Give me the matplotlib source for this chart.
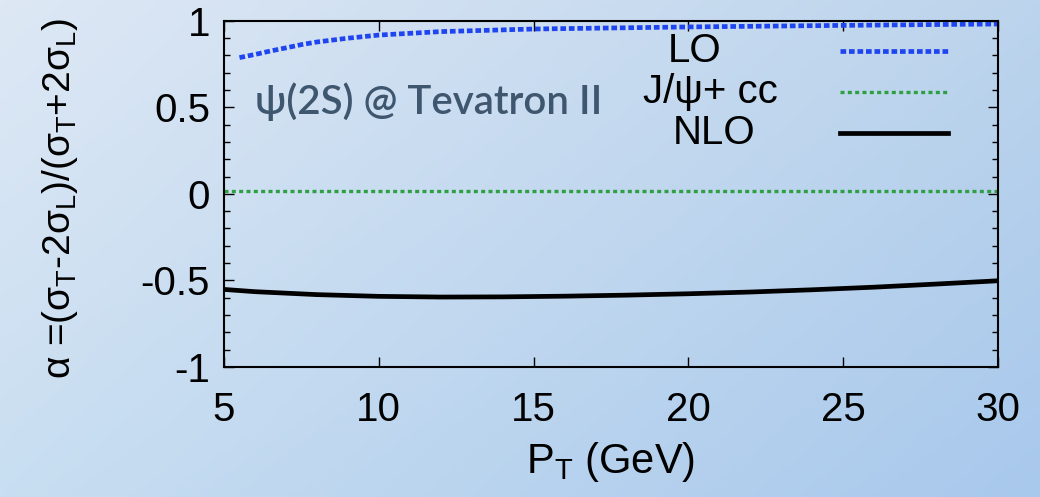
import numpy as np
import matplotlib
matplotlib.use("Agg")
import matplotlib.pyplot as plt
from matplotlib.ticker import MultipleLocator, NullLocator

plt.rcParams['font.family'] = ['Liberation Sans', 'DejaVu Sans']
plt.rcParams['mathtext.fontset'] = 'custom'
plt.rcParams['mathtext.rm'] = 'Liberation Sans'
plt.rcParams['mathtext.it'] = 'Liberation Sans'
plt.rcParams['mathtext.bf'] = 'Liberation Sans:bold'

# ---- data ----
pt_lo = [5.5, 6, 6.5, 7, 7.5, 8, 9, 10, 12, 15, 20, 25, 30]
alpha_lo = [0.787, 0.805, 0.825, 0.843, 0.862, 0.877, 0.899, 0.917, 0.937, 0.952, 0.964, 0.973, 0.981]

pt_cc = [5, 10, 15, 20, 25, 30]
alpha_cc = [0.015, 0.015, 0.015, 0.015, 0.015, 0.015]

pt_nlo = [5, 6, 8, 10, 12, 14, 16, 18, 20, 22, 24, 26, 28, 30]
alpha_nlo = [-0.552, -0.565, -0.582, -0.592, -0.596, -0.595, -0.591, -0.585,
             -0.577, -0.567, -0.554, -0.539, -0.521, -0.502]

labels = ['LO', r'J/ψ+ cc', 'NLO']
xticks = [5, 10, 15, 20, 25, 30]
yticks = [-1, -0.5, 0, 0.5, 1]
ytick_labels = ['-1', '-0.5', '0', '0.5', '1']

# ---- figure ----
fig = plt.figure(figsize=(10.4, 4.97), dpi=100)

# gradient background
bg = fig.add_axes([0, 0, 1, 1], zorder=-10)
ny, nx = 100, 200
yy, xx = np.mgrid[0:1:ny * 1j, 0:1:nx * 1j]
tl = np.array([222, 232, 245]) / 255.
tr = np.array([188, 212, 236]) / 255.
bl = np.array([200, 222, 241]) / 255.
br = np.array([168, 200, 236]) / 255.
img = (tl[None, None, :] * ((1 - xx) * (1 - yy))[..., None]
       + tr[None, None, :] * (xx * (1 - yy))[..., None]
       + bl[None, None, :] * ((1 - xx) * yy)[..., None]
       + br[None, None, :] * (xx * yy)[..., None])
bg.imshow(img, aspect='auto', extent=[0, 1, 0, 1], origin='upper')
bg.axis('off')

ax = fig.add_axes([224 / 1040, 1 - 367 / 497, 774 / 1040, 346.3 / 497])
ax.set_facecolor('none')

lo_color = '#1f45f0'
cc_color = '#2ea043'
nlo_color = 'black'
lo_style = dict(color=lo_color, lw=3.4, linestyle=(0, (1.2, 0.6)), dash_capstyle='butt')
cc_style = dict(color=cc_color, lw=2.4, linestyle=(0, (1.2, 1.0)), dash_capstyle='butt')
nlo_style = dict(color=nlo_color, lw=3.4, linestyle='-')

ax.plot(pt_lo, alpha_lo, **lo_style)
ax.plot(pt_cc, alpha_cc, **cc_style)
ax.plot(pt_nlo, alpha_nlo, **nlo_style)

ax.set_xlim(5, 30)
ax.set_ylim(-1, 1)
ax.set_xticks(xticks)
ax.set_xticklabels([str(t) for t in xticks])
ax.set_yticks(yticks)
ax.set_yticklabels(ytick_labels)
ax.yaxis.set_minor_locator(MultipleLocator(0.1))
ax.xaxis.set_minor_locator(NullLocator())
ax.tick_params(which='both', direction='in', top=True, right=True, labelsize=29, width=1.0)
ax.tick_params(which='major', length=7)
ax.tick_params(which='minor', length=4)
ax.tick_params(axis='x', pad=17)
ax.tick_params(axis='y', pad=10)
for s in ax.spines.values():
    s.set_linewidth(1.5)

ax.set_xlabel(r'P$_\mathrm{T}$ (GeV)', fontsize=30, labelpad=8)
ax.set_ylabel(r'$\alpha$ =($\sigma_\mathrm{T}$-2$\sigma_\mathrm{L}$)/($\sigma_\mathrm{T}$+2$\sigma_\mathrm{L}$)',
              fontsize=28)
ax.yaxis.set_label_coords(-0.186, 0.487)

# label inside
ax.text(0.040, 0.765, 'ψ(2S) @ Tevatron II', transform=ax.transAxes,
        fontsize=29, color='#3f566f', ha='left', va='center',
        family=['Lato', 'DejaVu Sans'], fontweight='semibold')

# manual legend
leg_x = [0.6085, 0.629, 0.6327]
leg_y = [0.913, 0.795, 0.677]
styles = [lo_style, cc_style, nlo_style]
for lab, xv, yv, st in zip(labels, leg_x, leg_y, styles):
    ax.text(xv, yv, lab, transform=ax.transAxes, fontsize=29, ha='center', va='center')
    ax.plot([0.796, 0.935], [yv, yv], transform=ax.transAxes, **st)

fig.savefig('out.png', dpi=100)
